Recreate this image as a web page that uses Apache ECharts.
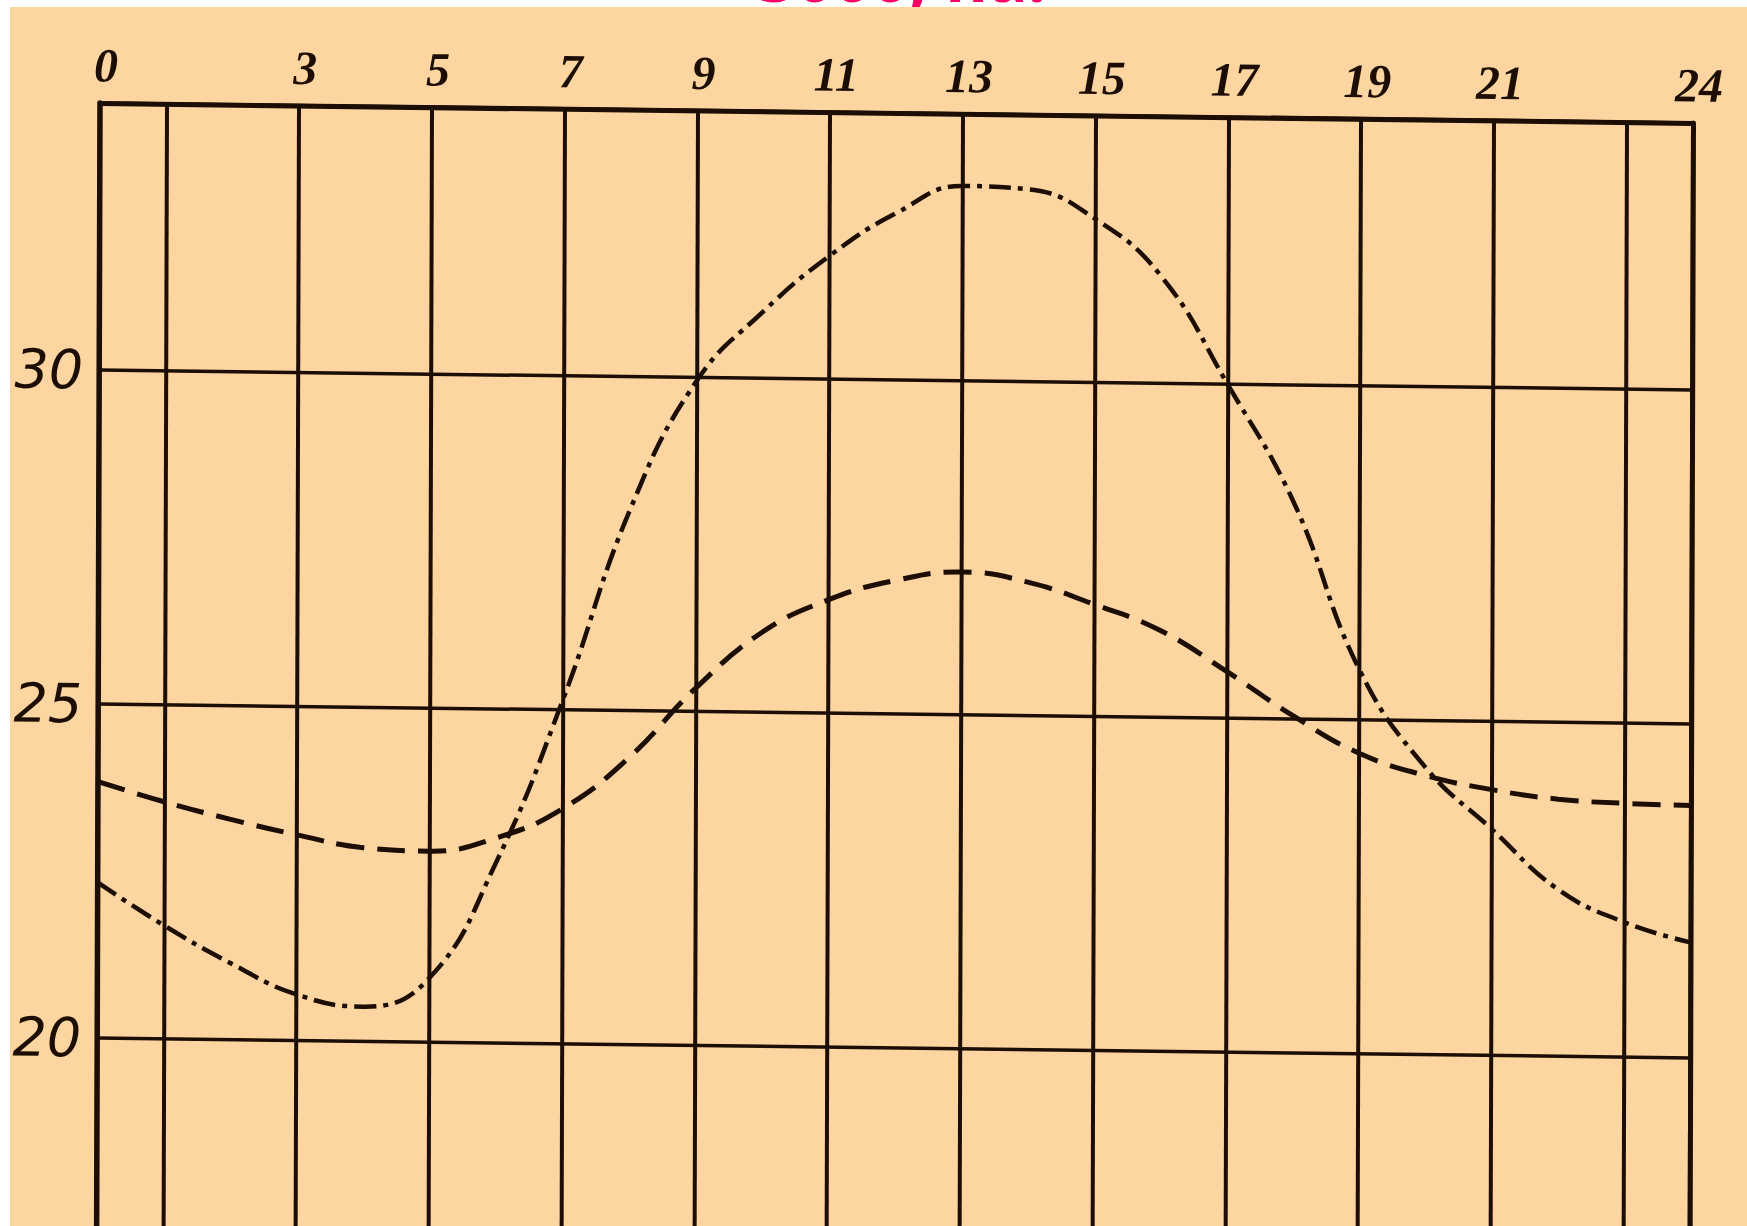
<!DOCTYPE html>
<html>
<head>
<meta charset="utf-8">
<script src="https://cdn.jsdelivr.net/npm/echarts@6/dist/echarts.min.js"></script>
<style>
html, body { margin: 0; padding: 0; background: #ffffff; width: 1747px; height: 1226px; overflow: hidden; }
#head { position: absolute; left: 0; top: 0; width: 1747px; height: 8px; overflow: hidden; z-index: 1; }
#paper { position: absolute; left: 10px; top: 7px; right: 0; bottom: 0; background: #FCD5A0; z-index: 2; }
#chart { position: absolute; left: 0; top: 0; width: 1747px; height: 1372px; z-index: 3;
         transform-origin: 100px 103px; transform: matrix(1, 0.0125, -0.003, 1, 0, 0); }
</style>
</head>
<body>
<div id="head"></div>
<div id="paper"></div>
<div id="chart"></div>
<script>
// ---- data ----
const titleText = '3000, на.';
const hours = ['0','1','2','3','4','5','6','7','8','9','10','11','12','13','14','15','16','17','18','19','20','21','22','23','24'];
const labeledHours = [0, 3, 5, 7, 9, 11, 13, 15, 17, 19, 21, 24];
const gridHours = [0, 1, 3, 5, 7, 9, 11, 13, 15, 17, 19, 21, 23, 24];
const yTickLabels = [20, 25, 30];
// dashed curve (smaller amplitude)
const dashedSeries = [23.84, 23.55, 23.3, 23.08, 22.9, 22.86, 23.07, 23.52, 24.3, 25.35, 26.2, 26.7, 27.0,
                      27.14, 27.0, 26.68, 26.3, 25.7, 25.05, 24.5, 24.18, 23.98, 23.85, 23.8, 23.78];
// dash-dot curve (larger amplitude)
const dashDotSeries = [22.33, 21.7, 21.15, 20.69, 20.52, 20.96, 22.7, 25.15, 28.0, 29.95, 31.0, 31.85, 32.5,
                       32.92, 32.88, 32.45, 31.6, 30.0, 28.25, 25.75, 24.3, 23.39, 22.5, 22.02, 21.73];

const ink = '#1c0d05';

// ---- title (mostly cut off at the top of the picture, as in the source) ----
const head = echarts.init(document.getElementById('head'), null, { renderer: 'svg', width: 1747, height: 8 });
head.setOption({
  animation: false,
  graphic: [{
    type: 'text', x: 758, y: -24,
    style: { text: titleText, fill: '#FF0066', fontSize: 66, fontWeight: 'bold',
             fontFamily: '"Noto Sans", sans-serif', align: 'left', verticalAlign: 'middle' }
  }]
});

// ---- chart ----
const chart = echarts.init(document.getElementById('chart'), null, { renderer: 'svg', width: 1747, height: 1372 });
chart.setOption({
  animation: false,
  backgroundColor: 'transparent',
  grid: { left: 100, right: 54, top: 103, bottom: 0, containLabel: false },
  xAxis: {
    type: 'category',
    data: hours,
    position: 'top',
    boundaryGap: false,
    axisLine: { show: true, onZero: false, lineStyle: { color: ink, width: 5 } },
    axisTick: { show: false },
    axisLabel: {
      interval: (i) => labeledHours.includes(i),
      margin: 14,
      padding: [0, 0, 0, 12],
      color: ink,
      fontSize: 48,
      fontStyle: 'italic',
      fontWeight: 'bold',
      fontFamily: '"Liberation Serif", serif'
    },
    splitLine: {
      show: true,
      interval: (i) => gridHours.includes(i),
      lineStyle: { color: ink, width: 4 }
    }
  },
  yAxis: [{
    type: 'value',
    min: 15, max: 34, interval: 5,
    position: 'left',
    axisLine: { show: true, lineStyle: { color: ink, width: 5.5 } },
    axisTick: { show: false },
    axisLabel: {
      margin: 16,
      color: ink,
      fontSize: 54,
      fontStyle: 'italic',
      fontFamily: '"DejaVu Sans", sans-serif',
      padding: [0, 0, 16, 0],
      formatter: (v) => (yTickLabels.includes(v) ? String(v) : '')
    },
    splitLine: { show: true, lineStyle: { color: ink, width: 3.5 } }
  }, {
    type: 'value',
    min: 15, max: 34, interval: 5,
    position: 'right',
    axisLine: { show: true, lineStyle: { color: ink, width: 5 } },
    axisTick: { show: false },
    axisLabel: { show: false },
    splitLine: { show: false }
  }],
  series: [{
    type: 'line',
    data: dashedSeries,
    smooth: 0.45,
    symbol: 'none',
    lineStyle: { color: ink, width: 5, type: [28, 13], cap: 'butt' }
  }, {
    type: 'line',
    data: dashDotSeries,
    smooth: 0.45,
    symbol: 'none',
    lineStyle: { color: ink, width: 4.5, type: [22, 7, 5, 7], cap: 'butt' }
  }]
});
</script>
</body>
</html>
